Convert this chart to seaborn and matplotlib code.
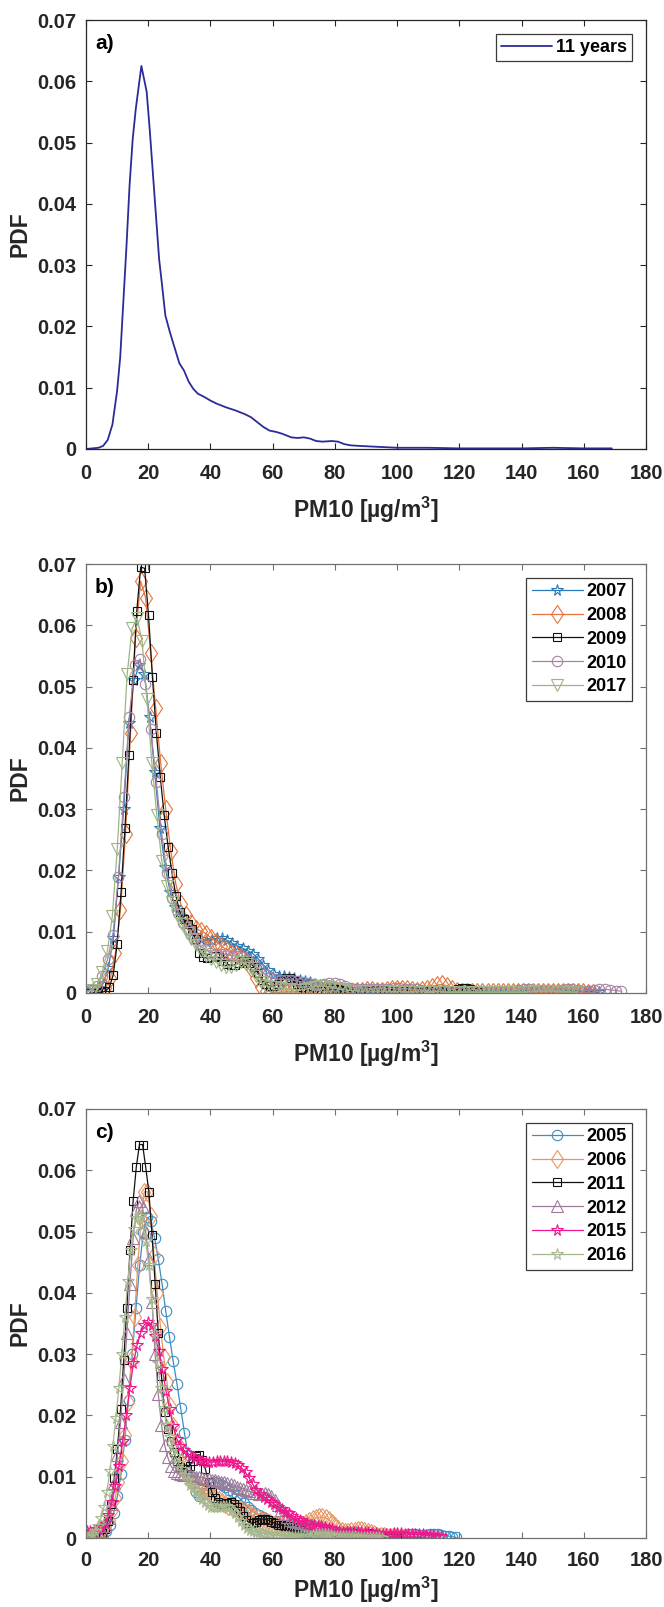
import numpy as np
import matplotlib
matplotlib.use("Agg")
import matplotlib.pyplot as plt
import seaborn as sns

sns.set_style("ticks")
plt.rcParams["font.family"] = ["Liberation Sans", "DejaVu Sans"]
plt.rcParams["font.weight"] = "bold"
plt.rcParams["mathtext.fontset"] = "custom"
plt.rcParams["mathtext.rm"] = "Liberation Sans:bold"
plt.rcParams["mathtext.bf"] = "Liberation Sans:bold"
plt.rcParams["mathtext.it"] = "Liberation Sans:bold"

# ---------------- data ----------------
X_TICKS = [0, 20, 40, 60, 80, 100, 120, 140, 160, 180]
Y_TICKS = [0, 0.01, 0.02, 0.03, 0.04, 0.05, 0.06, 0.07]
Y_TICK_LABELS = ["0", "0.01", "0.02", "0.03", "0.04", "0.05", "0.06", "0.07"]

# panel a: all 11 years
A_X = [0, 2, 4, 5.5, 7, 8.5, 10, 11, 12, 13, 14, 15, 16, 17.8, 19.5, 20.5, 21.5, 22.5,
       23.5, 24.5, 25.5, 27, 28.5, 30, 31.5, 33, 34.5, 36, 38, 40, 42, 45, 48, 51, 53,
       55, 57, 59, 61, 63, 66, 68, 70, 72, 74, 76, 79, 81, 83, 85, 88, 92, 96, 100,
       110, 120, 130, 140, 150, 160, 169]
A_Y = [0.0000, 0.0001, 0.0002, 0.0005, 0.0015, 0.0040, 0.0095, 0.0150, 0.0240, 0.0330,
       0.0430, 0.0505, 0.0555, 0.0625, 0.0583, 0.0520, 0.0450, 0.0380, 0.0310, 0.0265,
       0.0218, 0.0190, 0.0165, 0.0140, 0.0128, 0.0110, 0.0098, 0.0090, 0.0085, 0.0079,
       0.0074, 0.0068, 0.0063, 0.0057, 0.0052, 0.0044, 0.0036, 0.0030, 0.0028, 0.0025,
       0.0019, 0.0018, 0.0019, 0.0017, 0.0013, 0.0012, 0.0013, 0.0012, 0.0008, 0.0006,
       0.0005, 0.0004, 0.0003, 0.0002, 0.0002, 0.0001, 0.0001, 0.0001, 0.0002, 0.0001,
       0.0001]

# panel b: per-year density curves (100 evaluation points between first and last x)
B_YEARS = ["2007", "2008", "2009", "2010", "2017"]
B_XRANGE = [(0.5, 165), (3, 163), (1.2, 125.9), (0, 172), (0.5, 158)]
Y2007 = [0.0003, 0.0005, 0.0008, 0.0015, 0.0040, 0.0090, 0.0190, 0.0300, 0.0440, 0.0510,
         0.0535, 0.0520, 0.0450, 0.0360, 0.0270, 0.0205, 0.0165, 0.0140, 0.0125, 0.0115,
         0.0105, 0.0095, 0.0088, 0.0085, 0.0087, 0.0089, 0.0089, 0.0086, 0.0081, 0.0077,
         0.0073, 0.0069, 0.0064, 0.0056, 0.0046, 0.0037, 0.0031, 0.0028, 0.0027, 0.0026,
         0.0024, 0.0022, 0.0020, 0.0018, 0.0015, 0.0013, 0.0011, 0.0010, 0.0009, 0.0008,
         0.0007, 0.0006, 0.0005, 0.0005, 0.0004, 0.0004, 0.0004, 0.0005, 0.0005, 0.0004,
         0.0004, 0.0003, 0.0003, 0.0003, 0.0004, 0.0004, 0.0003, 0.0003, 0.0002, 0.0002,
         0.0002, 0.0002, 0.0001, 0.0001, 0.0001, 0.0001, 0.0001, 0.0001, 0.0001, 0.0001,
         0.0001, 0.0001, 0.0001, 0.0001, 0.0001, 0.0001, 0.0001, 0.0001, 0.0002, 0.0002,
         0.0002, 0.0003, 0.0003, 0.0002, 0.0002, 0.0002, 0.0002, 0.0003, 0.0002, 0.0001]
Y2008 = [0.0000, 0.0002, 0.0008, 0.0025, 0.0065, 0.0135, 0.0260, 0.0425, 0.0580, 0.0672,
         0.0645, 0.0555, 0.0465, 0.0375, 0.0300, 0.0232, 0.0178, 0.0145, 0.0127, 0.0114,
         0.0105, 0.0101, 0.0097, 0.0090, 0.0084, 0.0077, 0.0071, 0.0066, 0.0063, 0.0058,
         0.0052, 0.0040, 0.0024, 0.0010, 0.0004, 0.0002, 0.0001, 0.0001, 0.0002, 0.0002,
         0.0002, 0.0001, 0.0001, 0.0001, 0.0002, 0.0003, 0.0004, 0.0003, 0.0002, 0.0001,
         0.0001, 0.0002, 0.0003, 0.0004, 0.0005, 0.0005, 0.0004, 0.0004, 0.0005, 0.0006,
         0.0007, 0.0007, 0.0006, 0.0005, 0.0004, 0.0005, 0.0007, 0.0010, 0.0013, 0.0014,
         0.0011, 0.0007, 0.0004, 0.0002, 0.0001, 0.0001, 0.0001, 0.0001, 0.0001, 0.0001,
         0.0001, 0.0001, 0.0001, 0.0001, 0.0001, 0.0001, 0.0001, 0.0001, 0.0001, 0.0001,
         0.0001, 0.0001, 0.0002, 0.0002, 0.0002, 0.0001, 0.0001, 0.0001, 0.0000, 0.0000]
Y2009 = [0.0000, 0.0000, 0.0000, 0.0001, 0.0003, 0.0009, 0.0030, 0.0080, 0.0165, 0.0270,
         0.0388, 0.0510, 0.0623, 0.0695, 0.0693, 0.0617, 0.0515, 0.0425, 0.0353, 0.0290,
         0.0239, 0.0196, 0.0158, 0.0132, 0.0120, 0.0112, 0.0105, 0.0088, 0.0066, 0.0058,
         0.0057, 0.0058, 0.0060, 0.0058, 0.0053, 0.0047, 0.0045, 0.0046, 0.0049, 0.0052,
         0.0052, 0.0049, 0.0042, 0.0032, 0.0022, 0.0015, 0.0011, 0.0011, 0.0014, 0.0019,
         0.0024, 0.0025, 0.0020, 0.0014, 0.0009, 0.0006, 0.0004, 0.0003, 0.0003, 0.0004,
         0.0005, 0.0006, 0.0007, 0.0006, 0.0005, 0.0004, 0.0003, 0.0002, 0.0002, 0.0002,
         0.0002, 0.0003, 0.0004, 0.0005, 0.0005, 0.0005, 0.0004, 0.0003, 0.0003, 0.0003,
         0.0003, 0.0003, 0.0003, 0.0002, 0.0002, 0.0002, 0.0003, 0.0004, 0.0005, 0.0005,
         0.0004, 0.0003, 0.0003, 0.0004, 0.0006, 0.0008, 0.0008, 0.0006, 0.0003, 0.0001]
Y2010 = [0.0003, 0.0005, 0.0012, 0.0028, 0.0055, 0.0095, 0.0190, 0.0320, 0.0450, 0.0535,
         0.0545, 0.0505, 0.0430, 0.0345, 0.0260, 0.0195, 0.0155, 0.0130, 0.0115, 0.0102,
         0.0088, 0.0078, 0.0071, 0.0066, 0.0064, 0.0064, 0.0063, 0.0061, 0.0060, 0.0058,
         0.0054, 0.0047, 0.0039, 0.0031, 0.0026, 0.0023, 0.0022, 0.0022, 0.0021, 0.0020,
         0.0018, 0.0016, 0.0014, 0.0013, 0.0014, 0.0016, 0.0017, 0.0015, 0.0011, 0.0008,
         0.0007, 0.0007, 0.0007, 0.0007, 0.0007, 0.0007, 0.0007, 0.0008, 0.0008, 0.0007,
         0.0007, 0.0006, 0.0005, 0.0004, 0.0003, 0.0003, 0.0003, 0.0002, 0.0002, 0.0002,
         0.0002, 0.0002, 0.0002, 0.0002, 0.0002, 0.0002, 0.0002, 0.0002, 0.0003, 0.0004,
         0.0005, 0.0006, 0.0006, 0.0005, 0.0004, 0.0003, 0.0003, 0.0004, 0.0005, 0.0006,
         0.0006, 0.0005, 0.0004, 0.0004, 0.0005, 0.0006, 0.0006, 0.0005, 0.0004, 0.0003]
Y2017 = [0.0002, 0.0005, 0.0014, 0.0035, 0.0068, 0.0125, 0.0235, 0.0375, 0.0520, 0.0595,
         0.0612, 0.0575, 0.0480, 0.0375, 0.0290, 0.0215, 0.0175, 0.0148, 0.0128, 0.0112,
         0.0098, 0.0088, 0.0078, 0.0068, 0.0060, 0.0055, 0.0050, 0.0045, 0.0042, 0.0043,
         0.0046, 0.0050, 0.0048, 0.0040, 0.0028, 0.0018, 0.0012, 0.0010, 0.0009, 0.0008,
         0.0007, 0.0006, 0.0005, 0.0005, 0.0006, 0.0008, 0.0010, 0.0011, 0.0011, 0.0010,
         0.0008, 0.0006, 0.0005, 0.0004, 0.0004, 0.0003, 0.0003, 0.0003, 0.0003, 0.0003,
         0.0003, 0.0003, 0.0002, 0.0002, 0.0002, 0.0002, 0.0002, 0.0002, 0.0002, 0.0002,
         0.0002, 0.0002, 0.0001, 0.0001, 0.0001, 0.0001, 0.0001, 0.0001, 0.0001, 0.0001,
         0.0001, 0.0001, 0.0001, 0.0001, 0.0001, 0.0001, 0.0001, 0.0001, 0.0001, 0.0002,
         0.0002, 0.0003, 0.0003, 0.0003, 0.0003, 0.0002, 0.0002, 0.0002, 0.0001, 0.0001]

# panel c
C_YEARS = ["2005", "2006", "2011", "2012", "2015", "2016"]
C_XRANGE = [(0.5, 119), (0, 103), (0, 100), (0, 100), (-1, 114), (0, 95)]
Y2005 = [0.0000, 0.0000, 0.0001, 0.0003, 0.0006, 0.0012, 0.0022, 0.0040, 0.0068, 0.0105,
         0.0160, 0.0225, 0.0300, 0.0375, 0.0445, 0.0500, 0.0523, 0.0518, 0.0490, 0.0455,
         0.0415, 0.0370, 0.0328, 0.0288, 0.0252, 0.0212, 0.0172, 0.0135, 0.0100, 0.0075,
         0.0069, 0.0073, 0.0082, 0.0090, 0.0092, 0.0090, 0.0087, 0.0083, 0.0079, 0.0075,
         0.0070, 0.0064, 0.0057, 0.0050, 0.0045, 0.0041, 0.0038, 0.0035, 0.0031, 0.0028,
         0.0026, 0.0024, 0.0022, 0.0020, 0.0018, 0.0016, 0.0014, 0.0012, 0.0010, 0.0008,
         0.0007, 0.0006, 0.0006, 0.0006, 0.0007, 0.0008, 0.0009, 0.0009, 0.0008, 0.0007,
         0.0006, 0.0005, 0.0005, 0.0005, 0.0005, 0.0004, 0.0004, 0.0004, 0.0003, 0.0003,
         0.0003, 0.0003, 0.0003, 0.0003, 0.0004, 0.0005, 0.0006, 0.0006, 0.0006, 0.0005,
         0.0005, 0.0005, 0.0006, 0.0006, 0.0006, 0.0005, 0.0004, 0.0003, 0.0002, 0.0001]
Y2006 = [0.0001, 0.0002, 0.0003, 0.0005, 0.0008, 0.0013, 0.0020, 0.0030, 0.0045, 0.0065,
         0.0092, 0.0125, 0.0168, 0.0222, 0.0290, 0.0360, 0.0445, 0.0520, 0.0565, 0.0565,
         0.0525, 0.0462, 0.0400, 0.0345, 0.0295, 0.0255, 0.0215, 0.0183, 0.0155, 0.0135,
         0.0120, 0.0108, 0.0098, 0.0090, 0.0085, 0.0082, 0.0080, 0.0078, 0.0074, 0.0070,
         0.0066, 0.0062, 0.0058, 0.0055, 0.0053, 0.0051, 0.0050, 0.0048, 0.0046, 0.0044,
         0.0041, 0.0038, 0.0035, 0.0032, 0.0030, 0.0028, 0.0026, 0.0024, 0.0022, 0.0021,
         0.0020, 0.0019, 0.0018, 0.0018, 0.0018, 0.0019, 0.0020, 0.0022, 0.0025, 0.0028,
         0.0031, 0.0033, 0.0034, 0.0034, 0.0033, 0.0030, 0.0025, 0.0020, 0.0015, 0.0012,
         0.0010, 0.0010, 0.0011, 0.0012, 0.0013, 0.0013, 0.0012, 0.0010, 0.0008, 0.0006,
         0.0004, 0.0003, 0.0003, 0.0002, 0.0002, 0.0001, 0.0001, 0.0000, 0.0000, 0.0000]
Y2011 = [0.0000, 0.0000, 0.0001, 0.0002, 0.0004, 0.0008, 0.0015, 0.0028, 0.0055, 0.0098,
         0.0145, 0.0210, 0.0290, 0.0375, 0.0470, 0.0550, 0.0605, 0.0642, 0.0642, 0.0605,
         0.0565, 0.0495, 0.0415, 0.0335, 0.0265, 0.0205, 0.0178, 0.0158, 0.0140, 0.0125,
         0.0116, 0.0112, 0.0113, 0.0118, 0.0126, 0.0134, 0.0136, 0.0128, 0.0112, 0.0092,
         0.0075, 0.0065, 0.0058, 0.0055, 0.0055, 0.0057, 0.0058, 0.0056, 0.0051, 0.0044,
         0.0036, 0.0029, 0.0025, 0.0024, 0.0026, 0.0029, 0.0031, 0.0031, 0.0029, 0.0026,
         0.0024, 0.0022, 0.0021, 0.0020, 0.0020, 0.0019, 0.0018, 0.0016, 0.0013, 0.0010,
         0.0008, 0.0006, 0.0005, 0.0004, 0.0004, 0.0004, 0.0004, 0.0004, 0.0004, 0.0004,
         0.0005, 0.0006, 0.0008, 0.0009, 0.0009, 0.0008, 0.0007, 0.0006, 0.0006, 0.0007,
         0.0008, 0.0007, 0.0005, 0.0003, 0.0002, 0.0001, 0.0001, 0.0001, 0.0000, 0.0000]
Y2012 = [0.0000, 0.0001, 0.0002, 0.0004, 0.0007, 0.0012, 0.0020, 0.0033, 0.0055, 0.0090,
         0.0135, 0.0190, 0.0260, 0.0335, 0.0415, 0.0490, 0.0535, 0.0550, 0.0540, 0.0500,
         0.0455, 0.0385, 0.0300, 0.0235, 0.0185, 0.0152, 0.0132, 0.0118, 0.0110, 0.0106,
         0.0104, 0.0103, 0.0102, 0.0102, 0.0101, 0.0100, 0.0099, 0.0098, 0.0097, 0.0096,
         0.0095, 0.0094, 0.0093, 0.0092, 0.0091, 0.0090, 0.0088, 0.0086, 0.0084, 0.0082,
         0.0080, 0.0078, 0.0076, 0.0074, 0.0073, 0.0072, 0.0072, 0.0073, 0.0072, 0.0068,
         0.0062, 0.0054, 0.0046, 0.0039, 0.0034, 0.0030, 0.0028, 0.0026, 0.0025, 0.0024,
         0.0023, 0.0022, 0.0021, 0.0020, 0.0019, 0.0017, 0.0015, 0.0013, 0.0011, 0.0009,
         0.0008, 0.0008, 0.0008, 0.0009, 0.0010, 0.0010, 0.0009, 0.0008, 0.0007, 0.0006,
         0.0005, 0.0004, 0.0004, 0.0003, 0.0003, 0.0002, 0.0002, 0.0001, 0.0001, 0.0000]
Y2015 = [0.0010, 0.0011, 0.0012, 0.0012, 0.0014, 0.0018, 0.0025, 0.0038, 0.0058, 0.0085,
         0.0118, 0.0158, 0.0200, 0.0245, 0.0285, 0.0315, 0.0335, 0.0348, 0.0353, 0.0348,
         0.0330, 0.0305, 0.0275, 0.0240, 0.0210, 0.0182, 0.0162, 0.0150, 0.0143, 0.0138,
         0.0134, 0.0130, 0.0127, 0.0125, 0.0124, 0.0124, 0.0124, 0.0125, 0.0125, 0.0125,
         0.0125, 0.0124, 0.0122, 0.0119, 0.0114, 0.0107, 0.0098, 0.0088, 0.0079, 0.0072,
         0.0067, 0.0063, 0.0059, 0.0055, 0.0051, 0.0047, 0.0043, 0.0040, 0.0036, 0.0032,
         0.0029, 0.0026, 0.0024, 0.0022, 0.0021, 0.0020, 0.0019, 0.0018, 0.0016, 0.0014,
         0.0012, 0.0011, 0.0010, 0.0010, 0.0010, 0.0010, 0.0010, 0.0010, 0.0009, 0.0009,
         0.0008, 0.0008, 0.0007, 0.0007, 0.0007, 0.0007, 0.0008, 0.0008, 0.0008, 0.0007,
         0.0007, 0.0006, 0.0006, 0.0006, 0.0006, 0.0005, 0.0005, 0.0005, 0.0004, 0.0004]
Y2016 = [0.0002, 0.0004, 0.0007, 0.0012, 0.0020, 0.0032, 0.0050, 0.0075, 0.0110, 0.0150,
         0.0195, 0.0245, 0.0300, 0.0360, 0.0420, 0.0470, 0.0505, 0.0522, 0.0525, 0.0510,
         0.0485, 0.0445, 0.0390, 0.0335, 0.0285, 0.0245, 0.0212, 0.0185, 0.0165, 0.0148,
         0.0134, 0.0122, 0.0112, 0.0102, 0.0094, 0.0087, 0.0081, 0.0075, 0.0069, 0.0063,
         0.0058, 0.0054, 0.0051, 0.0050, 0.0050, 0.0051, 0.0052, 0.0052, 0.0050, 0.0046,
         0.0041, 0.0035, 0.0028, 0.0022, 0.0017, 0.0013, 0.0011, 0.0010, 0.0009, 0.0008,
         0.0007, 0.0006, 0.0005, 0.0005, 0.0004, 0.0004, 0.0004, 0.0003, 0.0003, 0.0003,
         0.0003, 0.0003, 0.0003, 0.0003, 0.0003, 0.0004, 0.0005, 0.0006, 0.0007, 0.0007,
         0.0007, 0.0006, 0.0005, 0.0004, 0.0003, 0.0003, 0.0003, 0.0003, 0.0003, 0.0003,
         0.0003, 0.0002, 0.0002, 0.0002, 0.0002, 0.0001, 0.0001, 0.0001, 0.0001, 0.0000]

B_Y = [Y2007, Y2008, Y2009, Y2010, Y2017]
C_Y = [Y2005, Y2006, Y2011, Y2012, Y2015, Y2016]

# ---------------- styles ----------------
B_STYLE = [("#2a7ab8", "*", 8.5), ("#e2743c", "d", 9.5), ("#111111", "s", 6.0),
           ("#a583a4", "o", 7.5), ("#9db584", "v", 8.0)]
C_STYLE = [("#3b8ec4", "o", 7.5), ("#e99563", "d", 9.5), ("#111111", "s", 6.0),
           ("#9c7b98", "^", 8.0), ("#f0168c", "*", 8.5), ("#a6b88e", "*", 8.5)]
TXT = "#262626"

fig = plt.figure(figsize=(6.64, 16.07), dpi=100)
FW, FH = 664.0, 1607.0
left, width, height = 86 / FW, 560 / FW, 429 / FH
tops = [20, 564, 1109]
axes = [fig.add_axes([left, 1 - (t + 429) / FH, width, height]) for t in tops]


def style_axes(ax, letter, spine_col, xpad, xlabelpad):
    ax.set_xlim(0, 180)
    ax.set_ylim(0, 0.07)
    ax.set_xticks(X_TICKS)
    ax.set_xticklabels([str(v) for v in X_TICKS])
    ax.set_yticks(Y_TICKS)
    ax.set_yticklabels(Y_TICK_LABELS)
    ax.tick_params(direction="in", length=4, width=0.8, top=True, right=True,
                   labelsize=14.5, colors=spine_col, labelcolor=TXT)
    ax.tick_params(axis="x", pad=xpad)
    ax.tick_params(axis="y", pad=7)
    for lab in ax.get_xticklabels() + ax.get_yticklabels():
        lab.set_fontweight("bold")
    for s in ax.spines.values():
        s.set_visible(True)
        s.set_color(spine_col)
        s.set_linewidth(0.9)
    ax.set_xlabel(r"PM10 [µg/m$^{3}$]", fontsize=16.5, fontweight="bold",
                  color=TXT, labelpad=xlabelpad)
    ax.set_ylabel("PDF", fontsize=16.5, fontweight="bold", color=TXT, labelpad=4)
    ax.text(0.016, 0.946, letter, transform=ax.transAxes, fontsize=15,
            fontweight="bold", color="black", va="center", ha="left")


def style_legend(ax):
    leg = ax.legend(loc="upper right", fancybox=False, framealpha=1,
                    edgecolor="#3a3a3a", prop={"weight": "bold", "size": 13},
                    handlelength=2.85, handletextpad=0.2, borderpad=0.3,
                    labelspacing=0.38, borderaxespad=0.75)
    leg.get_frame().set_linewidth(0.9)
    for t in leg.get_texts():
        t.set_color("black")


# panel a
ax = axes[0]
sns.lineplot(x=A_X, y=A_Y, ax=ax, color="#2b2b99", linewidth=1.3,
             label="11 years", sort=False, estimator=None)
style_axes(ax, "a)", "#262626", 11, 8)
style_legend(ax)

# panel b
ax = axes[1]
for yr, (lo, hi), ys, (col, mk, ms) in zip(B_YEARS, B_XRANGE, B_Y, B_STYLE):
    xs = np.linspace(lo, hi, len(ys))
    sns.lineplot(x=xs, y=ys, ax=ax, color=col, linewidth=0.9, marker=mk,
                 markersize=ms, markerfacecolor="none", markeredgecolor=col,
                 markeredgewidth=0.8, label=yr, sort=False, estimator=None)
style_axes(ax, "b)", "#707070", 11, 8)
style_legend(ax)

# panel c
ax = axes[2]
for yr, (lo, hi), ys, (col, mk, ms) in zip(C_YEARS, C_XRANGE, C_Y, C_STYLE):
    xs = np.linspace(lo, hi, len(ys))
    sns.lineplot(x=xs, y=ys, ax=ax, color=col, linewidth=0.9, marker=mk,
                 markersize=ms, markerfacecolor="none", markeredgecolor=col,
                 markeredgewidth=0.8, label=yr, sort=False, estimator=None)
style_axes(ax, "c)", "#707070", 9, 4)
style_legend(ax)

fig.savefig("out.png", dpi=100)
